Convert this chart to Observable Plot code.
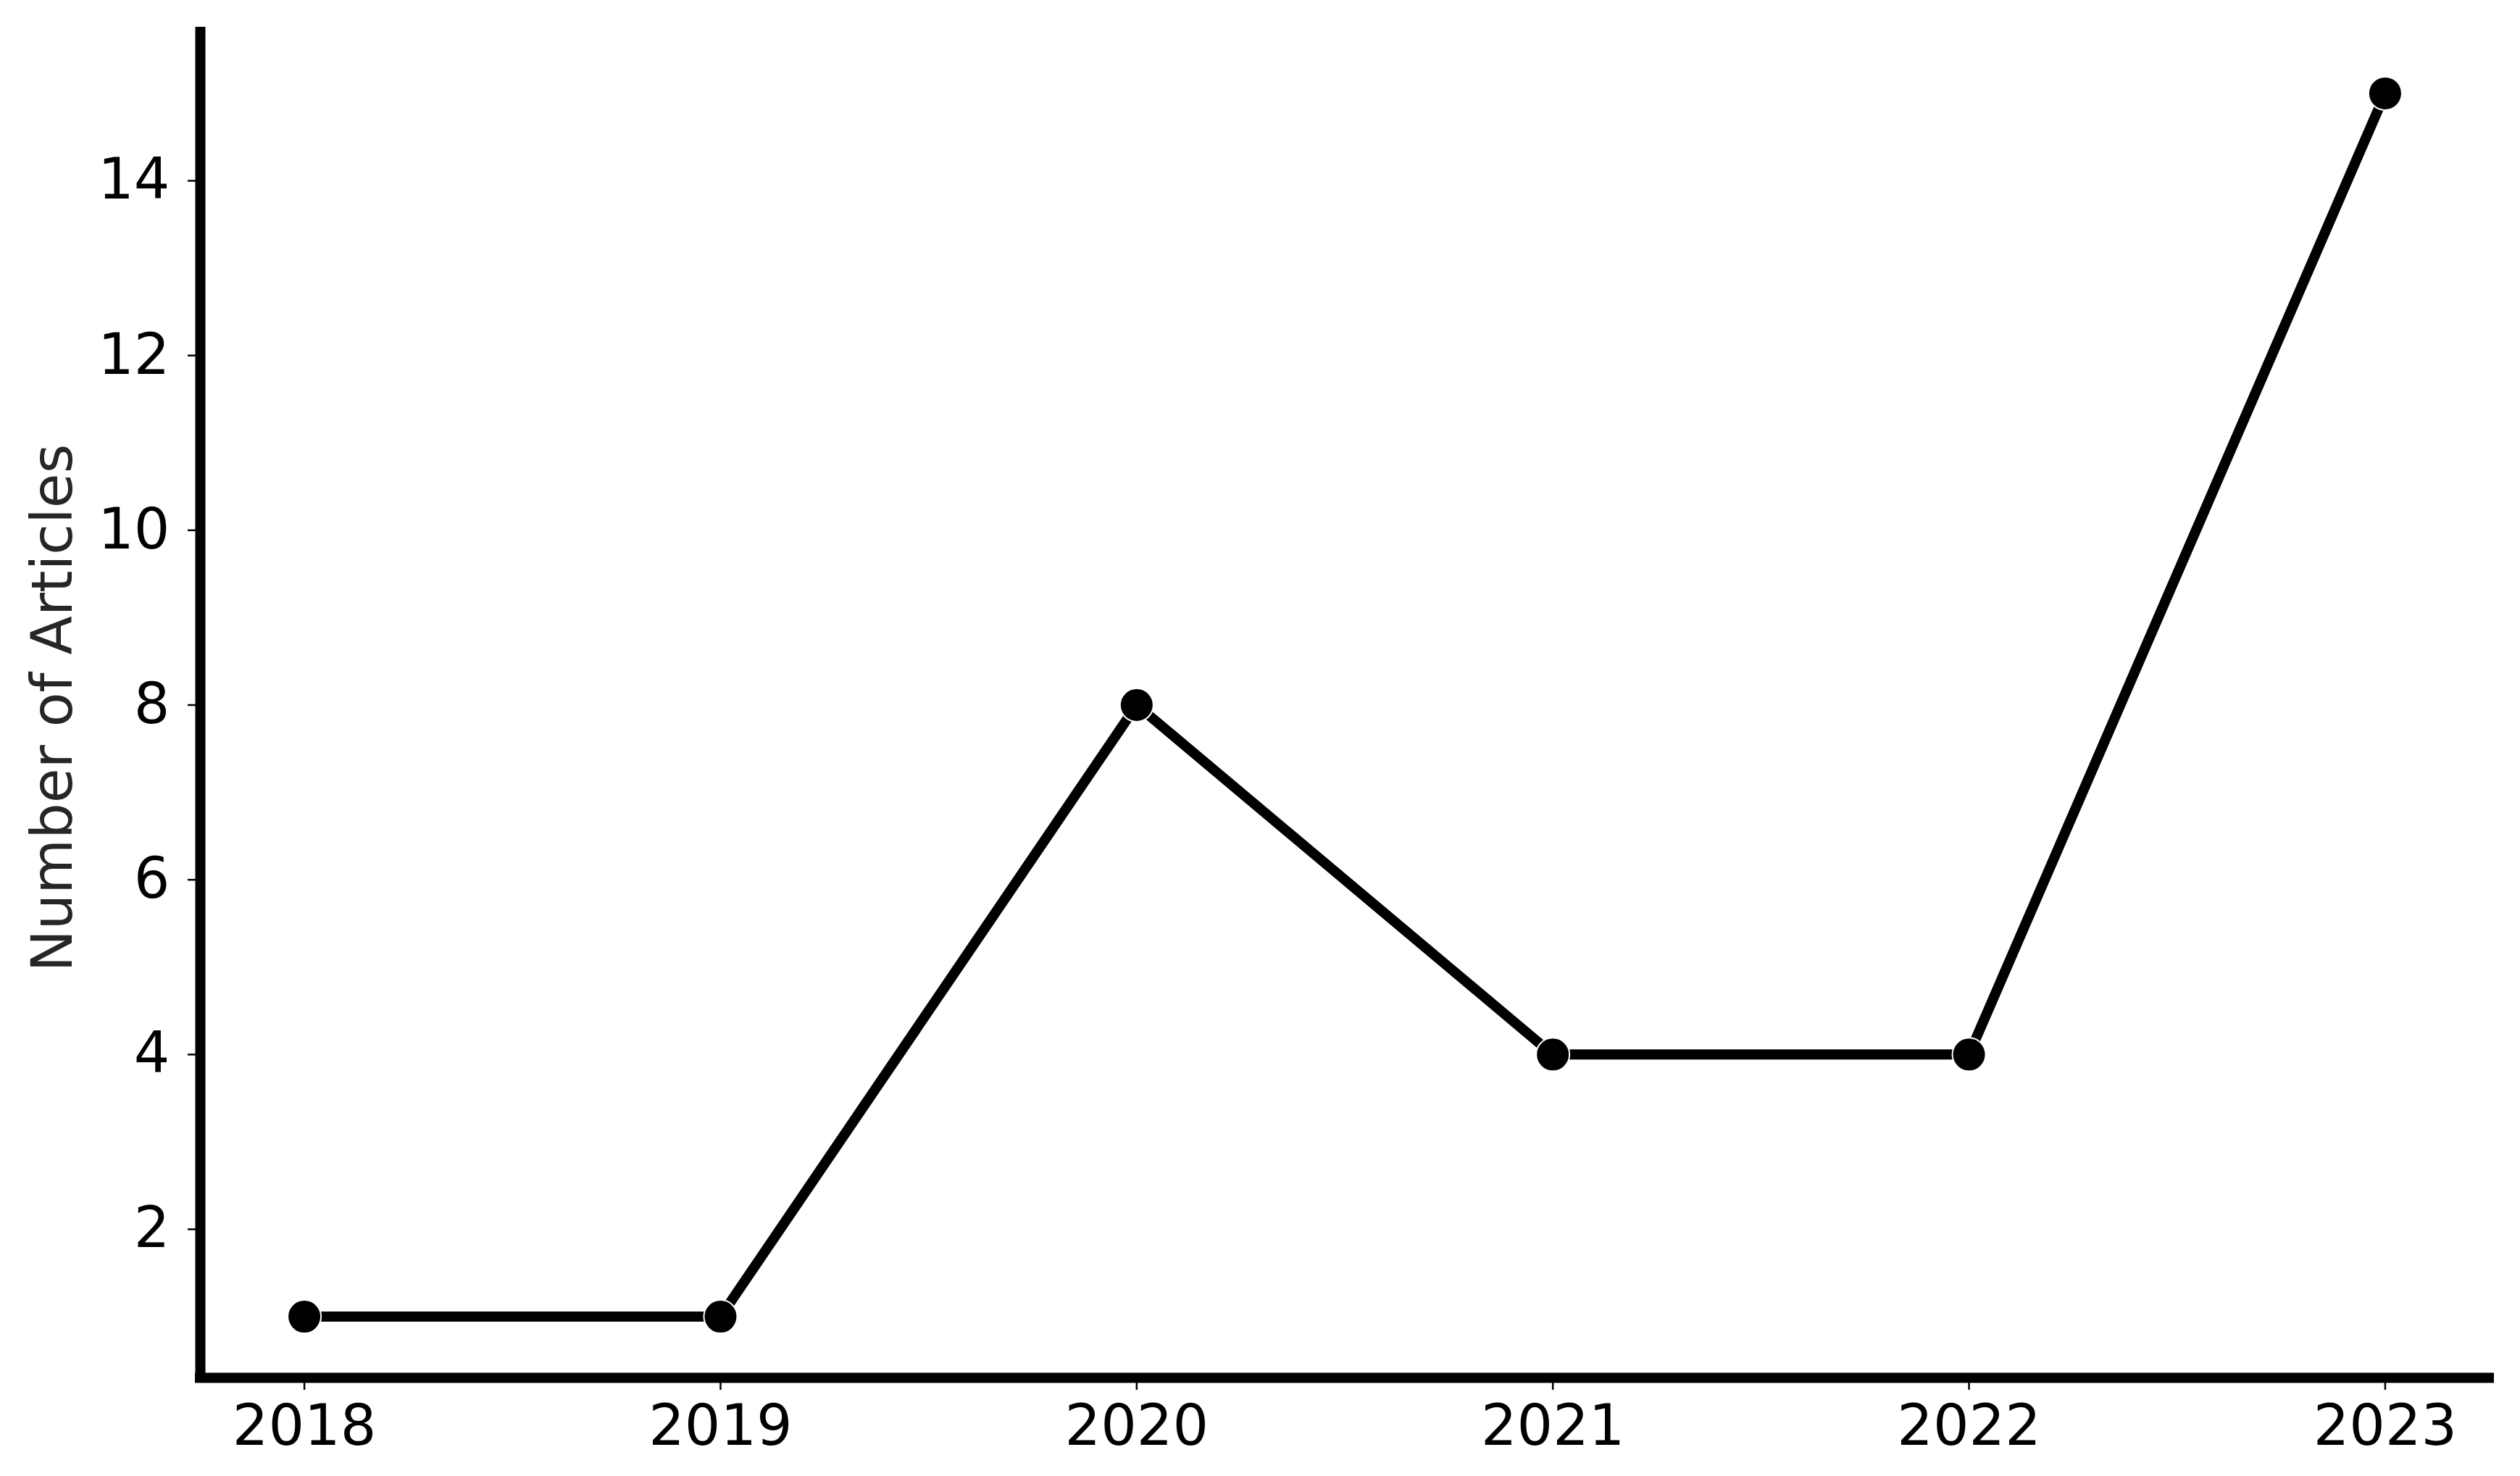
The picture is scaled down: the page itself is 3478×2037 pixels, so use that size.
<!DOCTYPE html>
<html>
<head>
<meta charset="utf-8">
<script src="https://cdn.jsdelivr.net/npm/d3@7"></script>
<script src="https://cdn.jsdelivr.net/npm/@observablehq/plot@0.6"></script>
<style>
  html, body { margin: 0; padding: 0; background: white; }
</style>
</head>
<body>
<div id="chart"></div>
<script>
const years = [2018, 2019, 2020, 2021, 2022, 2023];
const articles = [1, 1, 8, 4, 4, 15];
const yTicks = [2, 4, 6, 8, 10, 12, 14];
const yLabel = "Number of Articles";

const data = years.map((y, i) => ({year: y, count: articles[i]}));

const xDomain = [2017.75, 2023.25];
const yDomain = [0.3, 15.7];

const chart = Plot.plot({
  width: 3478,
  height: 2037,
  marginLeft: 276,
  marginRight: 43,
  marginTop: 44,
  marginBottom: 136,
  style: {fontFamily: "DejaVu Sans", fontSize: "78px", background: "white", color: "black"},
  x: {domain: xDomain, label: null},
  y: {domain: yDomain, label: null},
  marks: [
    Plot.axisX({ticks: years, tickFormat: "d", tickSize: 17, tickPadding: 20, strokeWidth: 2.5, fontSize: 78, label: null}),
    Plot.axisY({ticks: yTicks, tickFormat: "d", tickSize: 17, tickPadding: 25, strokeWidth: 2.5, fontSize: 78, label: null}),
    Plot.ruleX([xDomain[0]], {stroke: "black", strokeWidth: 14, strokeLinecap: "square"}),
    Plot.ruleY([yDomain[0]], {stroke: "black", strokeWidth: 14, strokeLinecap: "square"}),
    Plot.text([yLabel], {text: d => d, frameAnchor: "left", dx: -202, dy: 4, rotate: -90, fontSize: 78, fill: "#262626", textAnchor: "middle", lineAnchor: "middle"}),
    Plot.line(data, {x: "year", y: "count", stroke: "black", strokeWidth: 14}),
    Plot.dot(data, {x: "year", y: "count", r: 23, fill: "black", stroke: "white", strokeWidth: 2})
  ]
});
document.getElementById("chart").appendChild(chart);
</script>
</body>
</html>
